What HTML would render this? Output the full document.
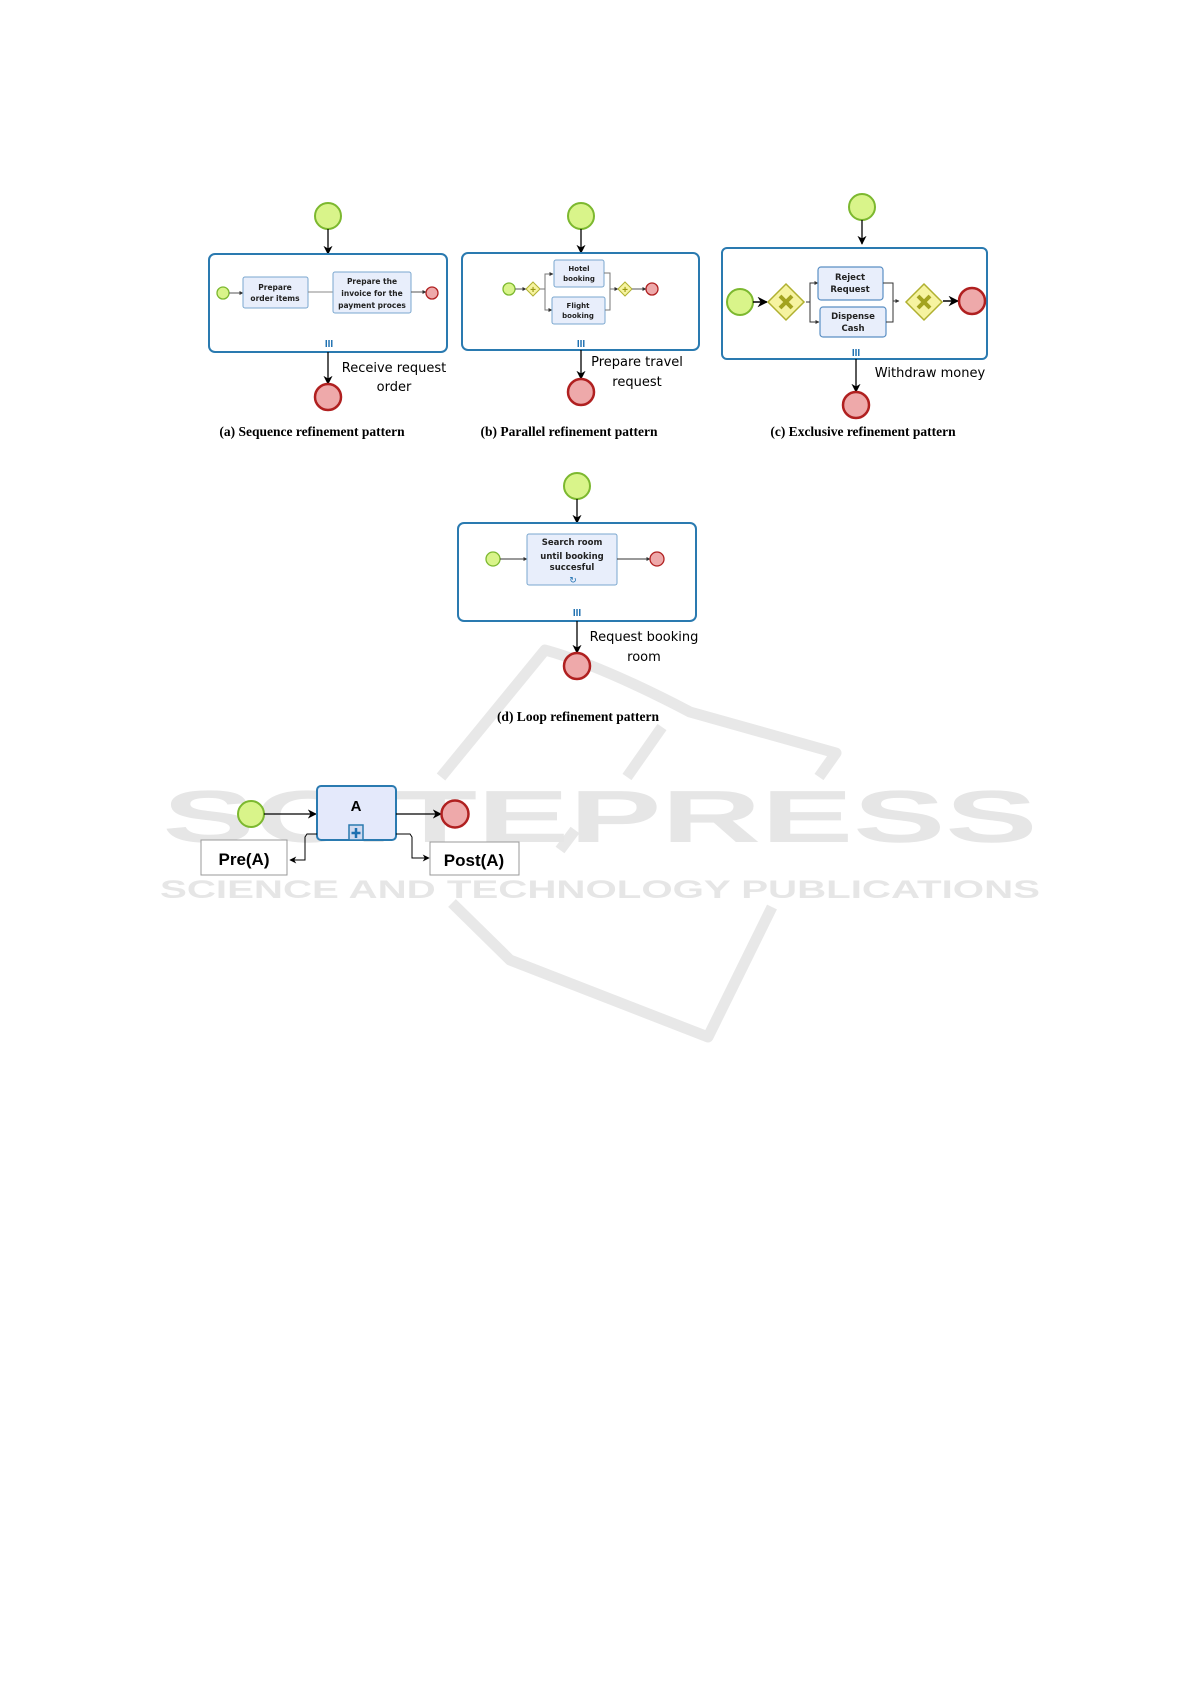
<!DOCTYPE html>
<html><head><meta charset="utf-8"><style>
html,body{margin:0;padding:0;background:#fff}
svg{display:block}
.t{font-family:"DejaVu Sans","Liberation Sans",sans-serif;font-weight:bold;fill:#222;text-anchor:middle}
.lb{font-family:"DejaVu Sans","Liberation Sans",sans-serif;fill:#000;font-size:13px}
.cap{font-family:"Liberation Serif",serif;font-weight:bold;font-size:13.5px;fill:#000;text-anchor:middle}
</style></head><body>
<svg width="1191" height="1684" viewBox="0 0 1191 1684" xmlns="http://www.w3.org/2000/svg">
<defs>
<marker id="ar" viewBox="0 0 10 10" refX="9" refY="5" markerWidth="7" markerHeight="7" orient="auto"><path d="M0,0 L10,5 L0,10 L3,5z" fill="#000"/></marker>
<marker id="as" viewBox="0 0 10 10" refX="9" refY="5" markerWidth="4" markerHeight="4" orient="auto"><path d="M0,0 L10,5 L0,10z" fill="#333"/></marker>
</defs>
<!-- watermark -->
<g fill="none" stroke="#e8e8e8" stroke-width="11" stroke-linejoin="round">
<path d="M441,777 L545,650 Q600,665 690,712 L836,753 L819,777"/>
<path d="M627,777 L662,727"/>
<path d="M452,903 L510,960 L708,1037 L772,907"/>
<path d="M560,850 L575,830"/>
</g>
<text x="600" y="842" font-family="Liberation Sans,sans-serif" font-weight="bold" font-size="74" fill="#e6e6e6" text-anchor="middle" textLength="875" lengthAdjust="spacingAndGlyphs">SCITEPRESS</text>
<text x="600" y="898" font-family="Liberation Sans,sans-serif" font-weight="bold" font-size="25" fill="#e6e6e6" text-anchor="middle" textLength="880" lengthAdjust="spacingAndGlyphs">SCIENCE AND TECHNOLOGY PUBLICATIONS</text>

<!-- (a) -->
<circle cx="328" cy="216" r="13" fill="#d9f48a" stroke="#7cb82f" stroke-width="2"/>
<line x1="328" y1="229" x2="328" y2="254" stroke="#000" stroke-width="1.3" marker-end="url(#ar)"/>
<rect x="209" y="254" width="238" height="98" rx="6" fill="#fff" stroke="#2a7ab0" stroke-width="2"/>
<circle cx="223" cy="293" r="6" fill="#d9f48a" stroke="#7cb82f" stroke-width="1.3"/>
<line x1="229" y1="293" x2="243" y2="293" stroke="#555" marker-end="url(#as)"/>
<rect x="243" y="277" width="65" height="31" rx="2" fill="#e8eefb" stroke="#7aa7cf"/>
<text class="t" font-size="7.5" x="275" y="290">Prepare</text><text class="t" font-size="7.5" x="275" y="301">order items</text>
<line x1="308" y1="292" x2="333" y2="292" stroke="#888"/>
<rect x="333" y="272" width="78" height="41" rx="2" fill="#e8eefb" stroke="#7aa7cf"/>
<text class="t" font-size="7.5" x="372" y="284">Prepare the</text><text class="t" font-size="7.5" x="372" y="296">invoice for the</text><text class="t" font-size="7.5" x="372" y="308">payment proces</text>
<line x1="411" y1="292" x2="426" y2="292" stroke="#555" marker-end="url(#as)"/>
<circle cx="432" cy="293" r="6" fill="#eea9aa" stroke="#b02020" stroke-width="1.3"/>
<text x="329" y="347" fill="#1d6fb0" font-size="10" font-weight="bold" text-anchor="middle" font-family="Liberation Sans">III</text>
<line x1="328" y1="352" x2="328" y2="384" stroke="#000" stroke-width="1.3" marker-end="url(#ar)"/>
<circle cx="328" cy="397" r="13" fill="#eea9aa" stroke="#b02020" stroke-width="2.5"/>
<text class="lb" x="394" y="372" text-anchor="middle">Receive request</text>
<text class="lb" x="394" y="391" text-anchor="middle">order</text>
<text class="cap" x="312" y="436">(a) Sequence refinement pattern</text>

<!-- (b) -->
<circle cx="581" cy="216" r="13" fill="#d9f48a" stroke="#7cb82f" stroke-width="2"/>
<line x1="581" y1="229" x2="581" y2="253" stroke="#000" stroke-width="1.3" marker-end="url(#ar)"/>
<rect x="462" y="253" width="237" height="97" rx="6" fill="#fff" stroke="#2a7ab0" stroke-width="2"/>
<circle cx="509" cy="289" r="6" fill="#d9f48a" stroke="#7cb82f" stroke-width="1.3"/>
<line x1="515" y1="289" x2="526" y2="289" stroke="#555" marker-end="url(#as)"/>
<path d="M533,282 L540,289 L533,296 L526,289z" fill="#f6f3a0" stroke="#b0b030"/>
<text x="533" y="293" font-size="10" font-weight="bold" fill="#9a9a10" text-anchor="middle" font-family="Liberation Sans">+</text>
<path d="M540,289 L545,289 L545,274 L553,274" fill="none" stroke="#777" marker-end="url(#as)"/>
<path d="M545,289 L545,310 L552,310" fill="none" stroke="#777" marker-end="url(#as)"/>
<rect x="554" y="260" width="50" height="27" rx="2" fill="#e8eefb" stroke="#7aa7cf"/>
<text class="t" font-size="7" x="579" y="271">Hotel</text><text class="t" font-size="7" x="579" y="281">booking</text>
<rect x="552" y="297" width="53" height="27" rx="2" fill="#e8eefb" stroke="#7aa7cf"/>
<text class="t" font-size="7" x="578" y="308">Flight</text><text class="t" font-size="7" x="578" y="318">booking</text>
<path d="M604,273 L610,273 L610,289 L618,289" fill="none" stroke="#777" marker-end="url(#as)"/>
<path d="M605,310 L610,310 L610,289" fill="none" stroke="#777"/>
<path d="M625,282 L632,289 L625,296 L618,289z" fill="#f6f3a0" stroke="#b0b030"/>
<text x="625" y="293" font-size="10" font-weight="bold" fill="#9a9a10" text-anchor="middle" font-family="Liberation Sans">+</text>
<line x1="632" y1="289" x2="646" y2="289" stroke="#555" marker-end="url(#as)"/>
<circle cx="652" cy="289" r="6" fill="#eea9aa" stroke="#b02020" stroke-width="1.3"/>
<text x="581" y="347" fill="#1d6fb0" font-size="10" font-weight="bold" text-anchor="middle" font-family="Liberation Sans">III</text>
<line x1="581" y1="350" x2="581" y2="379" stroke="#000" stroke-width="1.3" marker-end="url(#ar)"/>
<circle cx="581" cy="392" r="13" fill="#eea9aa" stroke="#b02020" stroke-width="2.5"/>
<text class="lb" x="637" y="366" text-anchor="middle">Prepare travel</text>
<text class="lb" x="637" y="386" text-anchor="middle">request</text>
<text class="cap" x="569" y="436">(b) Parallel refinement pattern</text>

<!-- (c) -->
<circle cx="862" cy="207" r="13" fill="#d9f48a" stroke="#7cb82f" stroke-width="2"/>
<line x1="862" y1="220" x2="862" y2="244" stroke="#000" stroke-width="1.3" marker-end="url(#ar)"/>
<rect x="722" y="248" width="265" height="111" rx="5" fill="#fff" stroke="#2a7ab0" stroke-width="2"/>
<circle cx="740" cy="302" r="13" fill="#d9f48a" stroke="#7cb82f" stroke-width="2"/>
<line x1="753" y1="302" x2="767" y2="302" stroke="#000" stroke-width="1.5" marker-end="url(#ar)"/>
<path d="M786,284 L804,302 L786,320 L768,302z" fill="#f6f3a0" stroke="#b0b030" stroke-width="1.5"/>
<path d="M780,296 L792,308 M792,296 L780,308" stroke="#a3a320" stroke-width="4"/>
<path d="M806,302 L810,302 L810,283 L818,283" fill="none" stroke="#333" marker-end="url(#as)"/>
<path d="M810,302 L810,322 L819,322" fill="none" stroke="#333" marker-end="url(#as)"/>
<rect x="818" y="267" width="65" height="33" rx="3" fill="#e8eefb" stroke="#5a8fc4" stroke-width="1.2"/>
<text class="t" font-size="8.5" x="850" y="280">Reject</text><text class="t" font-size="8.5" x="850" y="292">Request</text>
<rect x="820" y="307" width="66" height="30" rx="3" fill="#e8eefb" stroke="#5a8fc4" stroke-width="1.2"/>
<text class="t" font-size="8.5" x="853" y="319">Dispense</text><text class="t" font-size="8.5" x="853" y="331">Cash</text>
<path d="M883,283 L893,283 L893,301 L899,301" fill="none" stroke="#333" marker-end="url(#as)"/>
<path d="M886,322 L893,322 L893,301" fill="none" stroke="#333"/>
<path d="M924,284 L942,302 L924,320 L906,302z" fill="#f6f3a0" stroke="#b0b030" stroke-width="1.5"/>
<path d="M918,296 L930,308 M930,296 L918,308" stroke="#a3a320" stroke-width="4"/>
<line x1="943" y1="301" x2="958" y2="301" stroke="#000" stroke-width="1.5" marker-end="url(#ar)"/>
<circle cx="972" cy="301" r="13" fill="#eea9aa" stroke="#b02020" stroke-width="2.5"/>
<text x="856" y="356" fill="#1d6fb0" font-size="10" font-weight="bold" text-anchor="middle" font-family="Liberation Sans">III</text>
<line x1="856" y1="359" x2="856" y2="392" stroke="#000" stroke-width="1.3" marker-end="url(#ar)"/>
<circle cx="856" cy="405" r="13" fill="#eea9aa" stroke="#b02020" stroke-width="2.5"/>
<text class="lb" x="930" y="377" text-anchor="middle">Withdraw money</text>
<text class="cap" x="863" y="436">(c)  Exclusive refinement pattern</text>

<!-- (d) -->
<circle cx="577" cy="486" r="13" fill="#d9f48a" stroke="#7cb82f" stroke-width="2"/>
<line x1="577" y1="499" x2="577" y2="523" stroke="#000" stroke-width="1.3" marker-end="url(#ar)"/>
<rect x="458" y="523" width="238" height="98" rx="6" fill="#fff" stroke="#2a7ab0" stroke-width="2"/>
<circle cx="493" cy="559" r="7" fill="#d9f48a" stroke="#7cb82f" stroke-width="1.3"/>
<line x1="500" y1="559" x2="527" y2="559" stroke="#333" marker-end="url(#as)"/>
<rect x="527" y="534" width="90" height="51" rx="2" fill="#e8eefb" stroke="#7aa7cf"/>
<text class="t" font-size="8.5" font-weight="normal" x="572" y="545">Search room</text>
<text class="t" font-size="8.5" x="572" y="559">until booking</text>
<text class="t" font-size="8.5" x="572" y="570">succesful</text>
<text x="573" y="583" font-size="9" fill="#1d6fb0" text-anchor="middle" font-family="DejaVu Sans">↻</text>
<line x1="617" y1="559" x2="650" y2="559" stroke="#333" marker-end="url(#as)"/>
<circle cx="657" cy="559" r="7" fill="#eea9aa" stroke="#b02020" stroke-width="1.3"/>
<text x="577" y="616" fill="#1d6fb0" font-size="10" font-weight="bold" text-anchor="middle" font-family="Liberation Sans">III</text>
<line x1="577" y1="621" x2="577" y2="653" stroke="#000" stroke-width="1.3" marker-end="url(#ar)"/>
<circle cx="577" cy="666" r="13" fill="#eea9aa" stroke="#b02020" stroke-width="2.5"/>
<text class="lb" x="644" y="641" text-anchor="middle">Request booking</text>
<text class="lb" x="644" y="661" text-anchor="middle">room</text>
<text class="cap" x="578" y="721">(d) Loop refinement pattern</text>

<!-- bottom -->
<circle cx="251" cy="814" r="13" fill="#d9f48a" stroke="#7cb82f" stroke-width="2"/>
<line x1="264" y1="814" x2="316" y2="814" stroke="#000" stroke-width="1.3" marker-end="url(#ar)"/>
<rect x="317" y="786" width="79" height="54" rx="4" fill="#e4e9fb" stroke="#2a7ab0" stroke-width="2"/>
<text x="356" y="811" font-family="Liberation Sans" font-weight="bold" font-size="15" text-anchor="middle">A</text>
<rect x="349" y="825" width="14" height="15" fill="#d0daf0" stroke="#2a7ab0" stroke-width="1.5"/>
<path d="M356,828 V838 M351.5,833 H360.5" stroke="#1d6fb0" stroke-width="2.5"/>
<line x1="396" y1="814" x2="441" y2="814" stroke="#000" stroke-width="1.3" marker-end="url(#ar)"/>
<circle cx="455" cy="814" r="13.5" fill="#eea9aa" stroke="#b02020" stroke-width="2.5"/>
<rect x="201" y="840" width="86" height="35" fill="#fff" stroke="#999"/>
<text x="244" y="865" font-family="Liberation Sans" font-weight="bold" font-size="17" text-anchor="middle">Pre(A)</text>
<path d="M317,834 L307,834 L305,837 L305,860 L290,860" fill="none" stroke="#000" marker-end="url(#ar)"/>
<rect x="430" y="842" width="89" height="33" fill="#fff" stroke="#999"/>
<text x="474" y="866" font-family="Liberation Sans" font-weight="bold" font-size="17" text-anchor="middle">Post(A)</text>
<path d="M396,834 L410,834 L412,837 L412,858 L429,858" fill="none" stroke="#000" marker-end="url(#ar)"/>
</svg>
</body></html>
